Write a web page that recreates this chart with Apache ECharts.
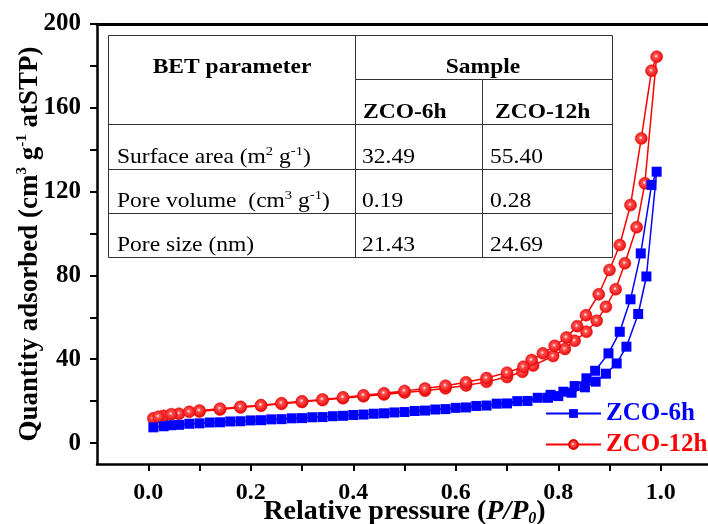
<!DOCTYPE html>
<html>
<head>
<meta charset="utf-8">
<script src="https://cdn.jsdelivr.net/npm/echarts@6.0.0/dist/echarts.min.js"></script>
<style>
    html, body { margin: 0; padding: 0; background: #fff; }
    #chart { width: 708px; height: 524px; }
</style>
</head>
<body>
<div id="chart"></div>
<script>
// N2 isotherm data (adsorption branch, then desorption branch)
var seriesNames = ['ZCO-6h', 'ZCO-12h'];

var pressure6h = [0.01, 0.03, 0.06, 0.10, 0.14, 0.18, 0.22, 0.26, 0.30, 0.34, 0.38, 0.42, 0.46, 0.50, 0.54,
    0.58, 0.62, 0.66, 0.70, 0.74, 0.78, 0.80, 0.826, 0.852, 0.873, 0.893, 0.914, 0.933, 0.956, 0.972, 0.992,
    0.982, 0.961, 0.941, 0.920, 0.898, 0.872, 0.855, 0.832, 0.810, 0.785, 0.76, 0.72, 0.68, 0.64, 0.60,
    0.56, 0.52, 0.48, 0.44, 0.40, 0.36, 0.32, 0.28, 0.24, 0.20, 0.16, 0.12, 0.08, 0.045];
var quantity6h = [7.5, 8.0, 8.7, 9.4, 9.9, 10.4, 10.9, 11.4, 11.9, 12.4, 13.0, 13.6, 14.2, 14.8, 15.5,
    16.2, 17.0, 17.9, 18.9, 20.1, 21.6, 22.4, 24.0, 26.6, 29.3, 33.1, 38.0, 46.0, 61.6, 79.5, 129.5,
    123.2, 90.5, 68.6, 53.1, 42.8, 34.5, 30.9, 27.2, 24.5, 23.0, 21.6, 20.0, 18.8, 17.7, 16.8,
    16.0, 15.3, 14.6, 14.0, 13.4, 12.8, 12.3, 11.8, 11.3, 10.8, 10.3, 9.8, 9.2, 8.5];

var pressure12h = [0.01, 0.03, 0.06, 0.10, 0.14, 0.18, 0.22, 0.26, 0.30, 0.34, 0.38, 0.42, 0.46, 0.50, 0.54,
    0.58, 0.62, 0.66, 0.70, 0.73, 0.751, 0.79, 0.813, 0.832, 0.855, 0.875, 0.893, 0.912, 0.930, 0.953,
    0.969, 0.992,
    0.982, 0.962, 0.941, 0.920, 0.900, 0.879, 0.854, 0.837, 0.816, 0.793, 0.770, 0.748, 0.732, 0.70,
    0.66, 0.62, 0.58, 0.54, 0.50, 0.46, 0.42, 0.38, 0.34, 0.30, 0.26, 0.22, 0.18, 0.14, 0.10, 0.08,
    0.045, 0.02];
var quantity12h = [11.8, 13.0, 14.0, 15.0, 16.0, 17.0, 17.8, 18.7, 19.6, 20.5, 21.4, 22.3, 23.2, 24.1, 25.0,
    26.1, 27.5, 29.2, 31.5, 34.0, 37.0, 41.5, 44.9, 48.8, 53.1, 58.4, 65.0, 73.4, 85.8, 103.0,
    124.0, 184.4,
    177.7, 145.4, 113.6, 94.5, 82.6, 71.0, 61.0, 55.8, 50.4, 46.4, 42.8, 39.6, 36.4, 33.6,
    31.0, 29.0, 27.4, 26.0, 24.9, 23.8, 22.8, 21.8, 20.8, 19.9, 19.0, 18.1, 17.3, 16.4, 15.5, 14.9,
    13.8, 12.6];

var xTickLabels = [0, 0.2, 0.4, 0.6, 0.8, 1.0];
var xTickMarks = [0, 0.1, 0.2, 0.3, 0.4, 0.5, 0.6, 0.7, 0.8, 0.9, 1.0];
var yTickLabels = [0, 40, 80, 120, 160, 200];
var yTickMarks = [0, 20, 40, 60, 80, 100, 120, 140, 160, 180, 200];

// inset table (BET parameters)
var tableParams = ['{n|Surface area (m}{s|2}{n| g}{s|-1}{n|)}',
    '{n|Pore volume  (cm}{s|3}{n| g}{s|-1}{n|)}',
    '{n|Pore size (nm)}'];
var table6h = ['32.49', '0.19', '21.43'];
var table12h = ['55.40', '0.28', '24.69'];

var serif = '"Liberation Serif", "Times New Roman", serif';

var zip = function(xs, ys) {
    return xs.map(function(x, i) { return [x, ys[i]]; });
};

var chart = echarts.init(document.getElementById('chart'));

var txt = function(x, y, text, bold, align) {
    return {
        type: 'text',
        x: x,
        y: y,
        z: 10,
        scaleX: 1.12,
        style: {
            text: text,
            align: align || 'left',
            verticalAlign: 'middle',
            textAlign: align || 'left',
            textVerticalAlign: 'middle',
            fill: '#000',
            rich: {
                n: { fontFamily: serif, fontSize: 21, fontWeight: bold ? 'bold' : 'normal', lineHeight: 24, color: '#000' },
                s: { fontFamily: serif, fontSize: 13, lineHeight: 12, verticalAlign: 'top', color: '#000' }
            }
        }
    };
};

var hline = function(x1, x2, y) {
    return { type: 'line', z: 10, shape: { x1: x1, y1: y, x2: x2, y2: y }, style: { stroke: '#333', lineWidth: 1 } };
};
var vline = function(x, y1, y2) {
    return { type: 'line', z: 10, shape: { x1: x, y1: y1, x2: x, y2: y2 }, style: { stroke: '#333', lineWidth: 1 } };
};

var rowY = [157, 201, 245];
var tableGraphics = [
    { type: 'rect', z: 9, shape: { x: 108.5, y: 35.5, width: 504, height: 222 }, style: { fill: '#fff', stroke: '#333', lineWidth: 1 } },
    vline(355.5, 35.5, 257.5),
    vline(482.5, 79.5, 257.5),
    hline(355.5, 612.5, 79.5),
    hline(108.5, 612.5, 124.5),
    hline(108.5, 612.5, 169.5),
    hline(108.5, 612.5, 213.5),
    txt(232, 68, '{n|BET parameter}', true, 'center'),
    txt(483, 68, '{n|Sample}', true, 'center'),
    txt(363, 113, '{n|ZCO-6h}', true),
    txt(495, 113, '{n|ZCO-12h}', true)
];
rowY.forEach(function(y, i) {
    tableGraphics.push(txt(117, y, tableParams[i], false));
    tableGraphics.push(txt(362, y, '{n|' + table6h[i] + '}', false));
    tableGraphics.push(txt(490, y, '{n|' + table12h[i] + '}', false));
});

var ballColor = {
    type: 'radial', x: 0.45, y: 0.45, r: 0.6,
    colorStops: [
        { offset: 0, color: '#ffffff' },
        { offset: 0.25, color: '#ff5050' },
        { offset: 1, color: '#e80000' }
    ]
};

var option = {
    animation: false,
    backgroundColor: '#fff',
    grid: {
        left: 97,
        right: -4,
        top: 24,
        bottom: 60,
        outerBoundsMode: 'none'
    },
    legend: {
        orient: 'vertical',
        left: 540,
        top: 396,
        itemWidth: 55,
        itemHeight: 11,
        itemGap: 6,
        textStyle: { fontFamily: serif, fontSize: 25, fontWeight: 'bold' },
        data: [
            { name: seriesNames[0], textStyle: { color: '#0000ff' } },
            { name: seriesNames[1], textStyle: { color: '#ff0000' } }
        ]
    },
    xAxis: [{
        type: 'value',
        min: -0.1,
        max: 1.1,
        position: 'bottom',
        axisLine: { onZero: false, lineStyle: { color: '#000', width: 2.5 } },
        axisTick: { customValues: xTickMarks, length: 7, lineStyle: { color: '#000', width: 2 } },
        axisLabel: {
            customValues: xTickLabels,
            formatter: function(v) { return v.toFixed(1); },
            fontFamily: serif, fontSize: 24, fontWeight: 'bold', color: '#000', margin: 17
        },
        splitLine: { show: false },
        name: '{b|Relative pressure (}{i|P/P}{u|0}{b|)}',
        nameLocation: 'middle',
        nameGap: 33,
        nameMoveOverlap: false,
        nameTextStyle: {
            rich: {
                b: { fontFamily: serif, fontSize: 28, fontWeight: 'bold', color: '#000', lineHeight: 30 },
                i: { fontFamily: serif, fontSize: 28, fontWeight: 'bold', fontStyle: 'italic', color: '#000', lineHeight: 30 },
                u: { fontFamily: serif, fontSize: 16, fontWeight: 'bold', fontStyle: 'italic', color: '#000', lineHeight: 14, verticalAlign: 'bottom' }
            }
        }
    }, {
        type: 'value',
        min: -0.1,
        max: 1.1,
        position: 'top',
        axisLine: { show: true, onZero: false, lineStyle: { color: '#000', width: 3 } },
        axisTick: { show: false },
        axisLabel: { show: false },
        splitLine: { show: false }
    }],
    yAxis: {
        type: 'value',
        min: -10,
        max: 200,
        axisLine: { show: true, onZero: false, lineStyle: { color: '#000', width: 2.5 } },
        axisTick: { show: true, customValues: yTickMarks, length: 7, lineStyle: { color: '#000', width: 2 } },
        axisLabel: {
            customValues: yTickLabels,
            fontFamily: serif, fontSize: 25, fontWeight: 'bold', color: '#000', margin: 16
        },
        splitLine: { show: false },
        name: '{b|Quantity adsorbed (cm}{s|3}{b| g}{s|-1}{b| atSTP)}',
        nameLocation: 'middle',
        nameGap: 52,
        nameMoveOverlap: false,
        nameTextStyle: {
            rich: {
                b: { fontFamily: serif, fontSize: 27, fontWeight: 'bold', color: '#000', lineHeight: 30 },
                s: { fontFamily: serif, fontSize: 15, fontWeight: 'bold', color: '#000', lineHeight: 14, verticalAlign: 'top' }
            }
        }
    },
    series: [{
        name: seriesNames[0],
        type: 'line',
        data: zip(pressure6h, quantity6h),
        symbol: 'rect',
        symbolSize: 10,
        showAllSymbol: true,
        lineStyle: { color: '#0000ff', width: 1.5 },
        itemStyle: { color: '#0000ff' },
        z: 3
    }, {
        name: seriesNames[1],
        type: 'line',
        data: zip(pressure12h, quantity12h),
        symbol: 'circle',
        symbolSize: 12,
        showAllSymbol: true,
        lineStyle: { color: '#ff0000', width: 1.5 },
        itemStyle: { color: ballColor, borderColor: '#e00000', borderWidth: 0.5 },
        z: 2
    }],
    graphic: tableGraphics
};

chart.setOption(option);
</script>
</body>
</html>
